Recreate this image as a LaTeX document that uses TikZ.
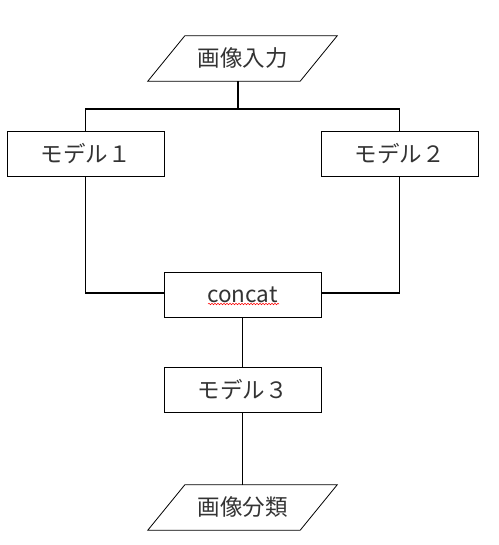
\documentclass[tikz,border=0pt]{standalone}
\usepackage{fontspec}
\setmainfont{Noto Sans CJK JP}
\usetikzlibrary{decorations.pathmorphing}
\tikzset{
  box/.style={draw, line width=0.8pt, minimum width=157pt, minimum height=45pt, inner sep=0pt, text=black!80, font=\fontsize{22.5}{26}\selectfont},
  para/.style={minimum width=152pt, minimum height=45pt, inner sep=0pt, text=black!80, font=\fontsize{22.5}{26}\selectfont},
  link/.style={line width=1.8pt},
  paraline/.style={line width=0.8pt}
}
\begin{document}
\begin{tikzpicture}[x=1pt,y=-1pt]
\fill[white] (0,0) rectangle (498,545);
\useasboundingbox (0,0) rectangle (498,545);
% nodes
\node[para] (in) at (242.5,58.5) {画像入力};
\draw[paraline] ([xshift=18.5pt]in.north west) -- ([xshift=18.5pt]in.north east) -- ([xshift=-18.5pt]in.south east) -- ([xshift=-18.5pt]in.south west) -- cycle;
\node[box] (m1) at (85.5,154) {モデル１};
\node[box] (m2) at (399.5,154) {モデル２};
\node[box] (cc) at (242.5,294.5) {concat};
\node[box] (m3) at (242.5,389.5) {モデル３};
\node[para] (out) at (242.5,507.5) {画像分類};
\draw[paraline] ([xshift=18.5pt]out.north west) -- ([xshift=18.5pt]out.north east) -- ([xshift=-18.5pt]out.south east) -- ([xshift=-18.5pt]out.south west) -- cycle;
% spell-check underline
\coordinate (sqa) at (208,304);
\coordinate (sqb) at (279,304);
\draw[red, line width=0.5pt, decorate, decoration={snake, amplitude=0.8pt, segment length=3pt}] (sqa) -- (sqb);
% connectors
\coordinate (bus) at (238,109);
\coordinate (ins) at ([xshift=-4.5pt]in.south);
\draw[link] (ins) -- (bus);
\draw[link] (m1.north) -- (m1.north |- bus) -- (m2.north |- bus) -- (m2.north);
\coordinate (lev) at (0,293);
\draw[link] (m1.south) -- (m1.south |- lev) -- (cc.west |- lev);
\draw[link] (m2.south) -- (m2.south |- lev) -- (cc.east |- lev);
\draw[link] (cc.south) -- (m3.north);
\draw[link] (m3.south) -- (out.north);
\end{tikzpicture}
\end{document}
